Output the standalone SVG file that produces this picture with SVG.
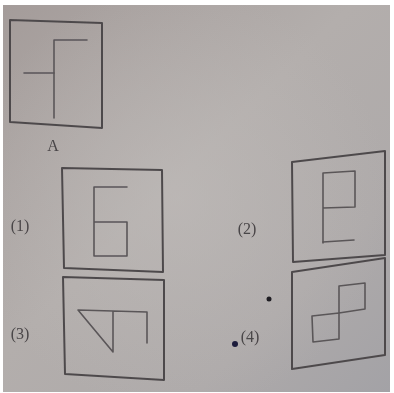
<svg xmlns="http://www.w3.org/2000/svg" width="394" height="393" viewBox="0 0 394 393">
<defs>
<linearGradient id="paper" x1="0" y1="0" x2="1" y2="1">
<stop offset="0" stop-color="#a49c9a"/>
<stop offset="0.45" stop-color="#b3aeac"/>
<stop offset="0.75" stop-color="#aeaaaa"/>
<stop offset="1" stop-color="#a3a2a6"/>
</linearGradient>
<radialGradient id="glow" cx="0.45" cy="0.5" r="0.55">
<stop offset="0" stop-color="#c0bcba" stop-opacity="0.6"/>
<stop offset="1" stop-color="#c0bcba" stop-opacity="0"/>
</radialGradient>
<filter id="soft" x="-5%" y="-5%" width="110%" height="110%"><feGaussianBlur stdDeviation="0.5"/></filter>
</defs>
<style>
.frame{fill:none;stroke:#4e4a4c;stroke-width:2;stroke-linejoin:round}
.fig{fill:none;stroke:#5a5658;stroke-width:1.6;stroke-linejoin:round;stroke-linecap:round}
.lbl{font-family:"Liberation Serif",serif;font-size:16px;fill:#4a4648;text-anchor:middle}
</style>
<rect x="0" y="0" width="394" height="393" fill="#ffffff"/>
<rect x="3" y="5" width="387" height="387" fill="url(#paper)"/>
<rect x="3" y="5" width="387" height="387" fill="url(#glow)"/>
<g filter="url(#soft)">
<g id="boxA">
<polygon class="frame" points="10,20 102,23 102,128 10,122"/>
<polyline class="fig" points="87,40 54,40 54,118"/>
<line class="fig" x1="24" y1="73" x2="54" y2="73"/>
<text class="lbl" x="53" y="151" font-size="17">A</text>
</g>
<g id="option1">
<polygon class="frame" points="62,168 162,170 163,272 64,268"/>
<polyline class="fig" points="127,187 94,187 94,256 127,256 127,222 94,222"/>
<text class="lbl" x="20" y="231">(1)</text>
</g>
<g id="option2">
<polygon class="frame" points="292,162 385,151 385,255 293,262"/>
<polyline class="fig" points="323,243 323,173 355,171 355,207 323,208"/>
<line class="fig" x1="323" y1="242" x2="354" y2="240"/>
<text class="lbl" x="247" y="234">(2)</text>
</g>
<g id="option3">
<polygon class="frame" points="63,277 164,280 164,380 65,374"/>
<polyline class="fig" points="147,343 147,312 78,310 113,352 113,312"/>
<text class="lbl" x="20" y="339">(3)</text>
</g>
<g id="option4">
<polygon class="frame" points="292,272 385,258 385,355 292,369"/>
<polygon class="fig" points="339,286 365,283 365,309 339,313"/>
<polygon class="fig" points="312,316 339,313 339,339 313,342"/>
<text class="lbl" x="250" y="342">(4)</text>
</g>
</g>
<circle cx="269" cy="299" r="2.5" fill="#1e1c22"/>
<circle cx="235" cy="344" r="3" fill="#1c1c3c"/>
</svg>
